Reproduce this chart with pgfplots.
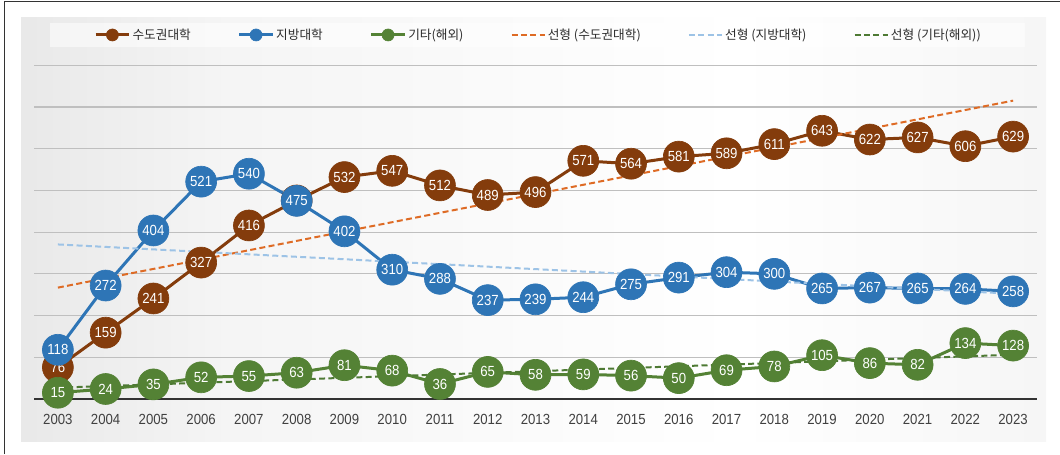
\documentclass[border=0pt]{standalone}
\usepackage{fontspec}
\setmainfont{Liberation Sans}
\newfontfamily\narrow[FakeStretch=0.9]{Liberation Sans}
\newfontfamily\kr{Noto Sans CJK KR}
\usepackage{pgfplots}
\usepackage{pgfplotstable}
\pgfplotsset{compat=1.18}

\definecolor{capc}{HTML}{843C0C}
\definecolor{locc}{HTML}{2E75B6}
\definecolor{othc}{HTML}{548235}
\definecolor{trendcap}{HTML}{DE6B25}
\definecolor{trendloc}{HTML}{9DC3E6}
\definecolor{trendoth}{HTML}{4E7A34}
\definecolor{gridc}{HTML}{BFBFBF}
\definecolor{axisc}{HTML}{333333}
\definecolor{textc}{HTML}{2B2B2B}
\definecolor{tickc}{HTML}{404040}

\pgfdeclarehorizontalshading{panelh}{100bp}{color(0bp)=(black!25); color(12bp)=(black!15); color(35bp)=(black!4); color(60bp)=(white); color(85bp)=(black!6); color(100bp)=(black!26)}

% 연도별 학생 수
\pgfplotstableread{
year capital local other
2003 76 118 15
2004 159 272 24
2005 241 404 35
2006 327 521 52
2007 416 540 55
2008 476 475 63
2009 532 402 81
2010 547 310 68
2011 512 288 36
2012 489 237 65
2013 496 239 58
2014 571 244 59
2015 564 275 56
2016 581 291 50
2017 589 304 69
2018 611 300 78
2019 643 265 105
2020 622 267 86
2021 627 265 82
2022 606 264 134
2023 629 258 128
}\data

\begin{document}
\begin{tikzpicture}
\begin{scope}[x=0.75pt,y=0.75pt]
\useasboundingbox (0,0) rectangle (1060,454);
\shade[shading=panelh] (21,13) rectangle (1046,436);
\fill[white,opacity=0.55] (50,407) rectangle (1025,431);
\draw[black!80,line width=0.9pt] (4.5,0) -- (4.5,452.5) -- (1060,452.5);
\end{scope}
\begin{axis}[
  at={(25.5pt,41.25pt)}, anchor=south west,
  width=752.25pt, height=250.3pt, scale only axis,
  xmin=2002.5, xmax=2023.5, ymin=0, ymax=800,
  xtick={2003,...,2023}, ytick={100,200,...,800}, yticklabels={},
  scaled x ticks=false,
  axis x line*=bottom, axis y line*=left,
  x axis line style={axisc, line width=1.5pt},
  y axis line style={draw=none},
  major tick length=0pt,
  ymajorgrids, grid style={gridc, line width=0.8pt},
  /pgf/number format/assume math mode=true,
  xticklabel style={font=\narrow\fontsize{11}{12}\selectfont, text=tickc,
    /pgf/number format/1000 sep={}, anchor=north, yshift=-8pt},
  clip=false,
  series/.style={line width=2.25pt, mark=*, mark size=11.6pt,
    mark options={solid, line width=0.5pt},
    nodes near coords,
    every node near coord/.append style={anchor=center, text=white, inner sep=0pt,
      font=\narrow\fontsize{11}{12}\selectfont},
    legend image code/.code={\draw[##1, mark size=4.5pt, mark repeat=2, mark phase=2]
      plot coordinates {(0pt,0pt) (12.5pt,0pt) (25pt,0pt)};}},
  trend/.style={line width=1.5pt, dash pattern=on 4.5pt off 2.5pt,
    legend image code/.code={\draw[##1] (0pt,0pt) -- (25pt,0pt);}},
  legend columns=6,
  legend style={at={(0.0598,1.0908)}, anchor=west, draw=none, fill=none,
    inner sep=0pt, nodes={inner sep=1.5pt},
    font=\kr\fontsize{9.5}{11}\selectfont, text=textc,
    /tikz/every even column/.append style={column sep=33.8pt}},
]
\addplot[series, color=capc] table[x=year, y=capital] {\data};
\addlegendentry{수도권대학}
\addplot[series, color=locc] table[x=year, y=local] {\data};
\addlegendentry{지방대학}
\addplot[series, color=othc] table[x=year, y=other] {\data};
\addlegendentry{기타(해외)}
\addplot[trend, color=trendcap] coordinates {(2003,267.0) (2023,715.2)};
\addlegendentry{선형 (수도권대학)}
\addplot[trend, color=trendloc] coordinates {(2003,370.5) (2023,252.2)};
\addlegendentry{선형 (지방대학)}
\addplot[trend, color=trendoth] coordinates {(2003,27.1) (2023,106.1)};
\addlegendentry{선형 (기타(해외))}
\end{axis}
\end{tikzpicture}
\end{document}
